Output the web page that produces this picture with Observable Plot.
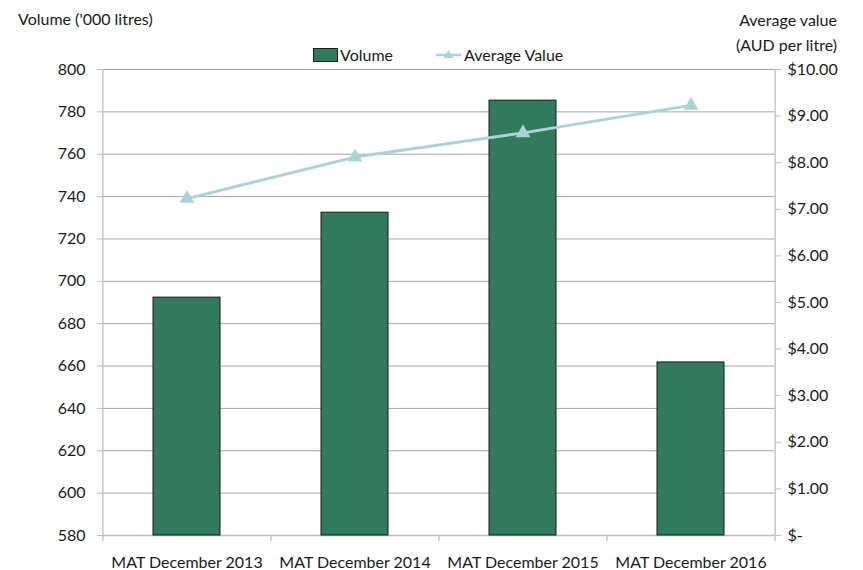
<!DOCTYPE html>
<html><head><meta charset="utf-8">
<script src="https://cdn.jsdelivr.net/npm/d3@7"></script>
<script src="https://cdn.jsdelivr.net/npm/@observablehq/plot@0.6"></script>
<style>
body{margin:0;background:#fff;font-family:Lato,"Noto Sans",sans-serif;color:#1a1a1a}
#wrap{position:relative;width:863px;height:570px}
.t{position:absolute;font-size:16px;line-height:25px;white-space:nowrap}
#legend{position:absolute;top:45px;left:313px;font-size:16px;display:flex;align-items:center}
.sw{display:inline-block;width:23px;height:12px;background:#317a5e;border:1px solid #222;margin-right:2px}
</style></head><body>
<div id="wrap">
<div class="t" style="left:18px;top:6px">Volume ('000 litres)</div>
<div class="t" style="right:26px;top:7px;text-align:right">Average value<br>(AUD per litre)</div>
<div id="legend"><span class="sw"></span><span>Volume</span>
<svg width="25" height="14" style="margin-left:43px;margin-right:3px"><line x1="0" y1="7" x2="25" y2="7" stroke="#a9d3d8" stroke-width="2.5"/><path d="M12.5,2 L17.5,10 L7.5,10 Z" fill="#a9d3d8"/></svg><span>Average Value</span></div>
<div id="chart"></div>
</div>
<script>
const categories = ["MAT December 2013","MAT December 2014","MAT December 2015","MAT December 2016"];
const volume = [692.3, 732.4, 785.3, 661.7];
const avgValue = [7.23, 8.12, 8.64, 9.23];
const volTicks = d3.range(580, 801, 20);
const valTicks = d3.range(0, 11, 1);

const yMin = 580, k = 22; // right axis: value -> volume units
const data = categories.map((c, i) => ({cat: c, vol: volume[i], avg: avgValue[i], y2: yMin + avgValue[i] * k}));
const half = 673 / 4 / 2;
const grey = "#a6a6a6";

const chart = Plot.plot({
  width: 863, height: 570,
  marginLeft: 102, marginRight: 88, marginTop: 69, marginBottom: 35,
  style: {fontFamily: "Lato, 'Noto Sans', sans-serif", fontSize: "16px", color: "#1a1a1a", background: "transparent"},
  x: {domain: categories, padding: 0.6, paddingOuter: 0.3, label: null},
  y: {domain: [580, 800], label: null},
  marks: [
    Plot.gridY(volTicks, {stroke: grey, strokeOpacity: 1}),
    Plot.ruleX([categories[0]], {y1: 580, y2: 800, dx: -half, stroke: "#bfbfbf", strokeWidth: 1.3}),
    Plot.ruleX([categories[3]], {y1: 580, y2: 800, dx: half, stroke: "#bfbfbf", strokeWidth: 1.3}),
    Plot.ruleX(categories, {y1: 580, y2: 580, dx: -half, insetBottom: -6, stroke: "#bfbfbf", strokeWidth: 1.3}),
    Plot.ruleX([categories[3]], {y1: 580, y2: 580, dx: half, insetBottom: -6, stroke: "#bfbfbf", strokeWidth: 1.3}),
    Plot.ruleY([580], {stroke: "#bfbfbf", strokeWidth: 1.3}),
    Plot.axisY(volTicks, {anchor: "left", tickSize: 5, tickPadding: 12, stroke: "#bfbfbf", label: null}),
    Plot.axisY(valTicks.map(v => yMin + v * k), {anchor: "right", tickSize: 5, tickPadding: 7, stroke: "#bfbfbf", label: null,
      tickFormat: d => { const v = Math.round((d - yMin) / k); return v === 0 ? "$-" : "$" + v.toFixed(2); }}),
    Plot.axisX({tickSize: 0, tickPadding: 21, label: null}),
    Plot.barY(data, {x: "cat", y1: 580, y2: "vol", fill: "#317a5e", stroke: "#1a1a1a", strokeWidth: 1}),
    Plot.line(data, {x: "cat", y: "y2", stroke: "#a9d3d8", strokeWidth: 3}),
    Plot.dot(data, {x: "cat", y: "y2", symbol: "triangle", r: 5.5, fill: "#a9d3d8"})
  ]
});
document.getElementById("chart").appendChild(chart);
</script>
</body></html>
